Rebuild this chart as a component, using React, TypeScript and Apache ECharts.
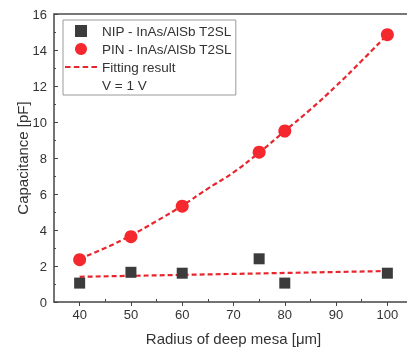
import React, { useEffect, useRef } from "react";
import * as echarts from "echarts";

const radiusNIP = [40, 50, 60, 75, 80, 100];
const capNIP = [1.05, 1.65, 1.6, 2.4, 1.05, 1.6];
const radiusPIN = [40, 50, 60, 75, 80, 100];
const capPIN = [2.35, 3.63, 5.32, 8.32, 9.5, 14.85];
const fitPINRadius = [40, 45, 50, 55, 60, 65, 70, 75, 80, 85, 90, 95, 100];
const fitPINCap = [2.4, 3.0, 3.7, 4.5, 5.35, 6.3, 7.2, 8.3, 9.5, 10.7, 12.0, 13.4, 14.85];
const fitNIPRadius = [40, 100];
const fitNIPCap = [1.4, 1.72];
const xMajorTicks = [40, 50, 60, 70, 80, 90, 100];
const xMinorTicks = [45, 55, 65, 75, 85, 95];

const FONT = "Liberation Sans, Arial, sans-serif";
const RED = "#f5282d";
const LINE_RED = "#e8262e";
const GRAY = "#3c3c3c";

const SQUARE_ICON = "path://M0,0h10v10h-10z";
const DASH_ICON = "path://M0,0h5v2h-5z M8,0h5v2h-5z M16,0h5v2h-5z M24,0h5v2h-5z";

export default function App() {
  const ref = useRef<HTMLDivElement>(null);
  useEffect(() => {
    if (!ref.current) return;
    const chart = echarts.init(ref.current, undefined, { renderer: "svg" });
    const zip = (xs: number[], ys: number[]) => xs.map((x, i) => [x, ys[i]]);
    chart.setOption({
      animation: false,
      textStyle: { fontFamily: FONT },
      grid: { left: 54, top: 14, width: 359, bottom: 46, outerBoundsMode: "none", containLabel: false },
      legend: {
        orient: "vertical",
        left: 63,
        top: 20,
        padding: [4, 4, 3, 1],
        itemWidth: 32,
        itemHeight: 12,
        itemGap: 4,
        itemTextGap: 0,
        borderColor: "#9a9a9a",
        borderWidth: 1,
        borderRadius: 0,
        textStyle: { fontFamily: FONT, fontSize: 13.5, color: "#333" },
        data: [
          { name: "NIP - InAs/AlSb T2SL", icon: SQUARE_ICON, itemStyle: { color: GRAY } },
          { name: "PIN - InAs/AlSb T2SL", icon: "circle", itemStyle: { color: RED } },
          { name: "Fitting result", icon: DASH_ICON, itemStyle: { color: LINE_RED } },
          { name: "V = 1 V", itemStyle: { opacity: 0 }, lineStyle: { opacity: 0 } },
        ],
      },
      xAxis: [
        {
          type: "value",
          min: 35,
          max: 105,
          position: "bottom",
          splitLine: { show: false },
          axisLine: { lineStyle: { color: "#444", width: 1.5 } },
          axisTick: { customValues: xMajorTicks, length: 4, lineStyle: { color: "#444" } },
          axisLabel: { customValues: xMajorTicks, fontSize: 13, color: "#333", margin: 6, fontFamily: FONT },
          name: "Radius of deep mesa [\u03bcm]",
          nameLocation: "middle",
          nameGap: 29,
          nameTextStyle: { fontSize: 15, color: "#333", fontFamily: FONT },
        },
        {
          type: "value",
          min: 35,
          max: 105,
          position: "bottom",
          splitLine: { show: false },
          axisLine: { show: false },
          axisTick: { customValues: xMinorTicks, inside: true, length: 3, lineStyle: { color: "#444" } },
          axisLabel: { show: false },
        },
        {
          type: "value",
          min: 35,
          max: 105,
          position: "top",
          splitLine: { show: false },
          axisLine: { lineStyle: { color: "#777", width: 2 } },
          axisTick: { show: false },
          axisLabel: { show: false },
        },
      ],
      yAxis: {
        type: "value",
        min: 0,
        max: 16,
        interval: 2,
        splitLine: { show: false },
        axisLine: { show: true, lineStyle: { color: "#444", width: 1.5 } },
        axisTick: { inside: true, length: 4, lineStyle: { color: "#444" } },
        minorTick: { show: true, splitNumber: 2, length: 2, lineStyle: { color: "#444" } },
        axisLabel: { fontSize: 13, color: "#333", margin: 7, fontFamily: FONT },
        name: "Capacitance [pF]",
        nameLocation: "middle",
        nameGap: 24,
        nameMoveOverlap: false,
        nameTextStyle: { fontSize: 15, color: "#333", fontFamily: FONT },
      },
      series: [
        {
          name: "Fitting result",
          type: "line",
          smooth: true,
          showSymbol: false,
          symbol: "none",
          data: zip(fitPINRadius, fitPINCap),
          lineStyle: { color: LINE_RED, width: 2.2, type: [5, 3] },
          itemStyle: { color: LINE_RED },
        },
        {
          name: "Fitting result",
          type: "line",
          showSymbol: false,
          symbol: "none",
          data: zip(fitNIPRadius, fitNIPCap),
          lineStyle: { color: LINE_RED, width: 2.2, type: [5, 3] },
          itemStyle: { color: LINE_RED },
        },
        {
          name: "V = 1 V",
          type: "line",
          symbol: "none",
          data: [],
        },
        {
          name: "NIP - InAs/AlSb T2SL",
          type: "scatter",
          symbol: "rect",
          symbolSize: 11,
          data: zip(radiusNIP, capNIP),
          itemStyle: { color: GRAY, opacity: 1 },
          z: 3,
        },
        {
          name: "PIN - InAs/AlSb T2SL",
          type: "scatter",
          symbol: "circle",
          symbolSize: 13,
          data: zip(radiusPIN, capPIN),
          itemStyle: { color: RED, opacity: 1 },
          z: 4,
        },
      ],
    });
    return () => chart.dispose();
  }, []);
  return (
    <div
      ref={ref}
      style={{ position: "fixed", left: 0, top: 0, width: 407, height: 348 }}
    />
  );
}
